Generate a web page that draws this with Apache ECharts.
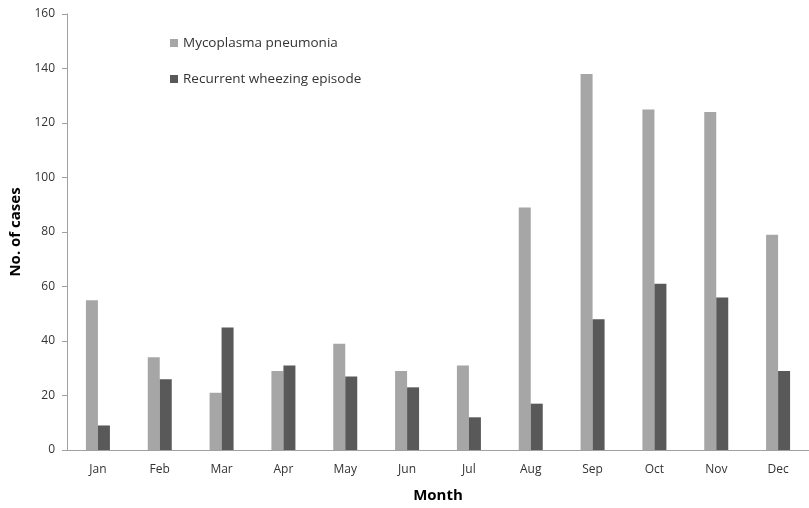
<!DOCTYPE html>
<html><head><meta charset="utf-8">
<script src="https://cdn.jsdelivr.net/npm/echarts@6/dist/echarts.min.js"></script>
<style>html,body{margin:0;padding:0;background:#fff;overflow:hidden}#c{width:809px;height:508px}</style>
</head><body><div id="c"></div>
<script>
const months = ['Jan','Feb','Mar','Apr','May','Jun','Jul','Aug','Sep','Oct','Nov','Dec'];
const mycoplasma = [55,34,21,29,39,29,31,89,138,125,124,79];
const wheezing = [9,26,45,31,27,23,12,17,48,61,56,29];
const yTicks = [0,20,40,60,80,100,120,140,160];
const fontFam = '"Open Sans","Noto Sans",sans-serif';
const chart = echarts.init(document.getElementById('c'), null, {renderer:'canvas'});
chart.setOption({
  animation:false,
  backgroundColor:'#fff',
  grid:{left:67,top:14,right:-1,bottom:55,containLabel:false},
  legend:{
    orient:'vertical', left:165, top:31, itemGap:22,
    itemWidth:8, itemHeight:8, icon:'rect',
    textStyle:{fontFamily:fontFam,fontSize:13.5,color:'#333'},
    data:['Mycoplasma pneumonia','Recurrent wheezing episode']
  },
  xAxis:{
    type:'category', data:months,
    name:'Month', nameLocation:'middle', nameGap:38,
    nameTextStyle:{fontFamily:fontFam,fontSize:15,fontWeight:'bold',color:'#000'},
    axisLine:{lineStyle:{color:'#a0a0a0',width:1}},
    axisTick:{show:false},
    axisLabel:{fontFamily:fontFam,fontSize:12,color:'#333',margin:14}
  },
  yAxis:{
    type:'value', min:yTicks[0], max:yTicks[yTicks.length-1], interval:20,
    name:'No. of cases', nameLocation:'middle', nameGap:44,
    nameTextStyle:{fontFamily:fontFam,fontSize:15,fontWeight:'bold',color:'#000'},
    axisLine:{show:true,lineStyle:{color:'#a0a0a0',width:1}},
    axisTick:{show:true,length:5,lineStyle:{color:'#a0a0a0'}},
    splitLine:{show:false},
    axisLabel:{fontFamily:fontFam,fontSize:12,color:'#333',margin:12}
  },
  series:[
    {name:'Mycoplasma pneumonia',type:'bar',data:mycoplasma,barWidth:12,barGap:'0%',
     itemStyle:{color:'#a6a6a6'}},
    {name:'Recurrent wheezing episode',type:'bar',data:wheezing,barWidth:12,barGap:'0%',
     itemStyle:{color:'#595959'}}
  ]
});
</script></body></html>
